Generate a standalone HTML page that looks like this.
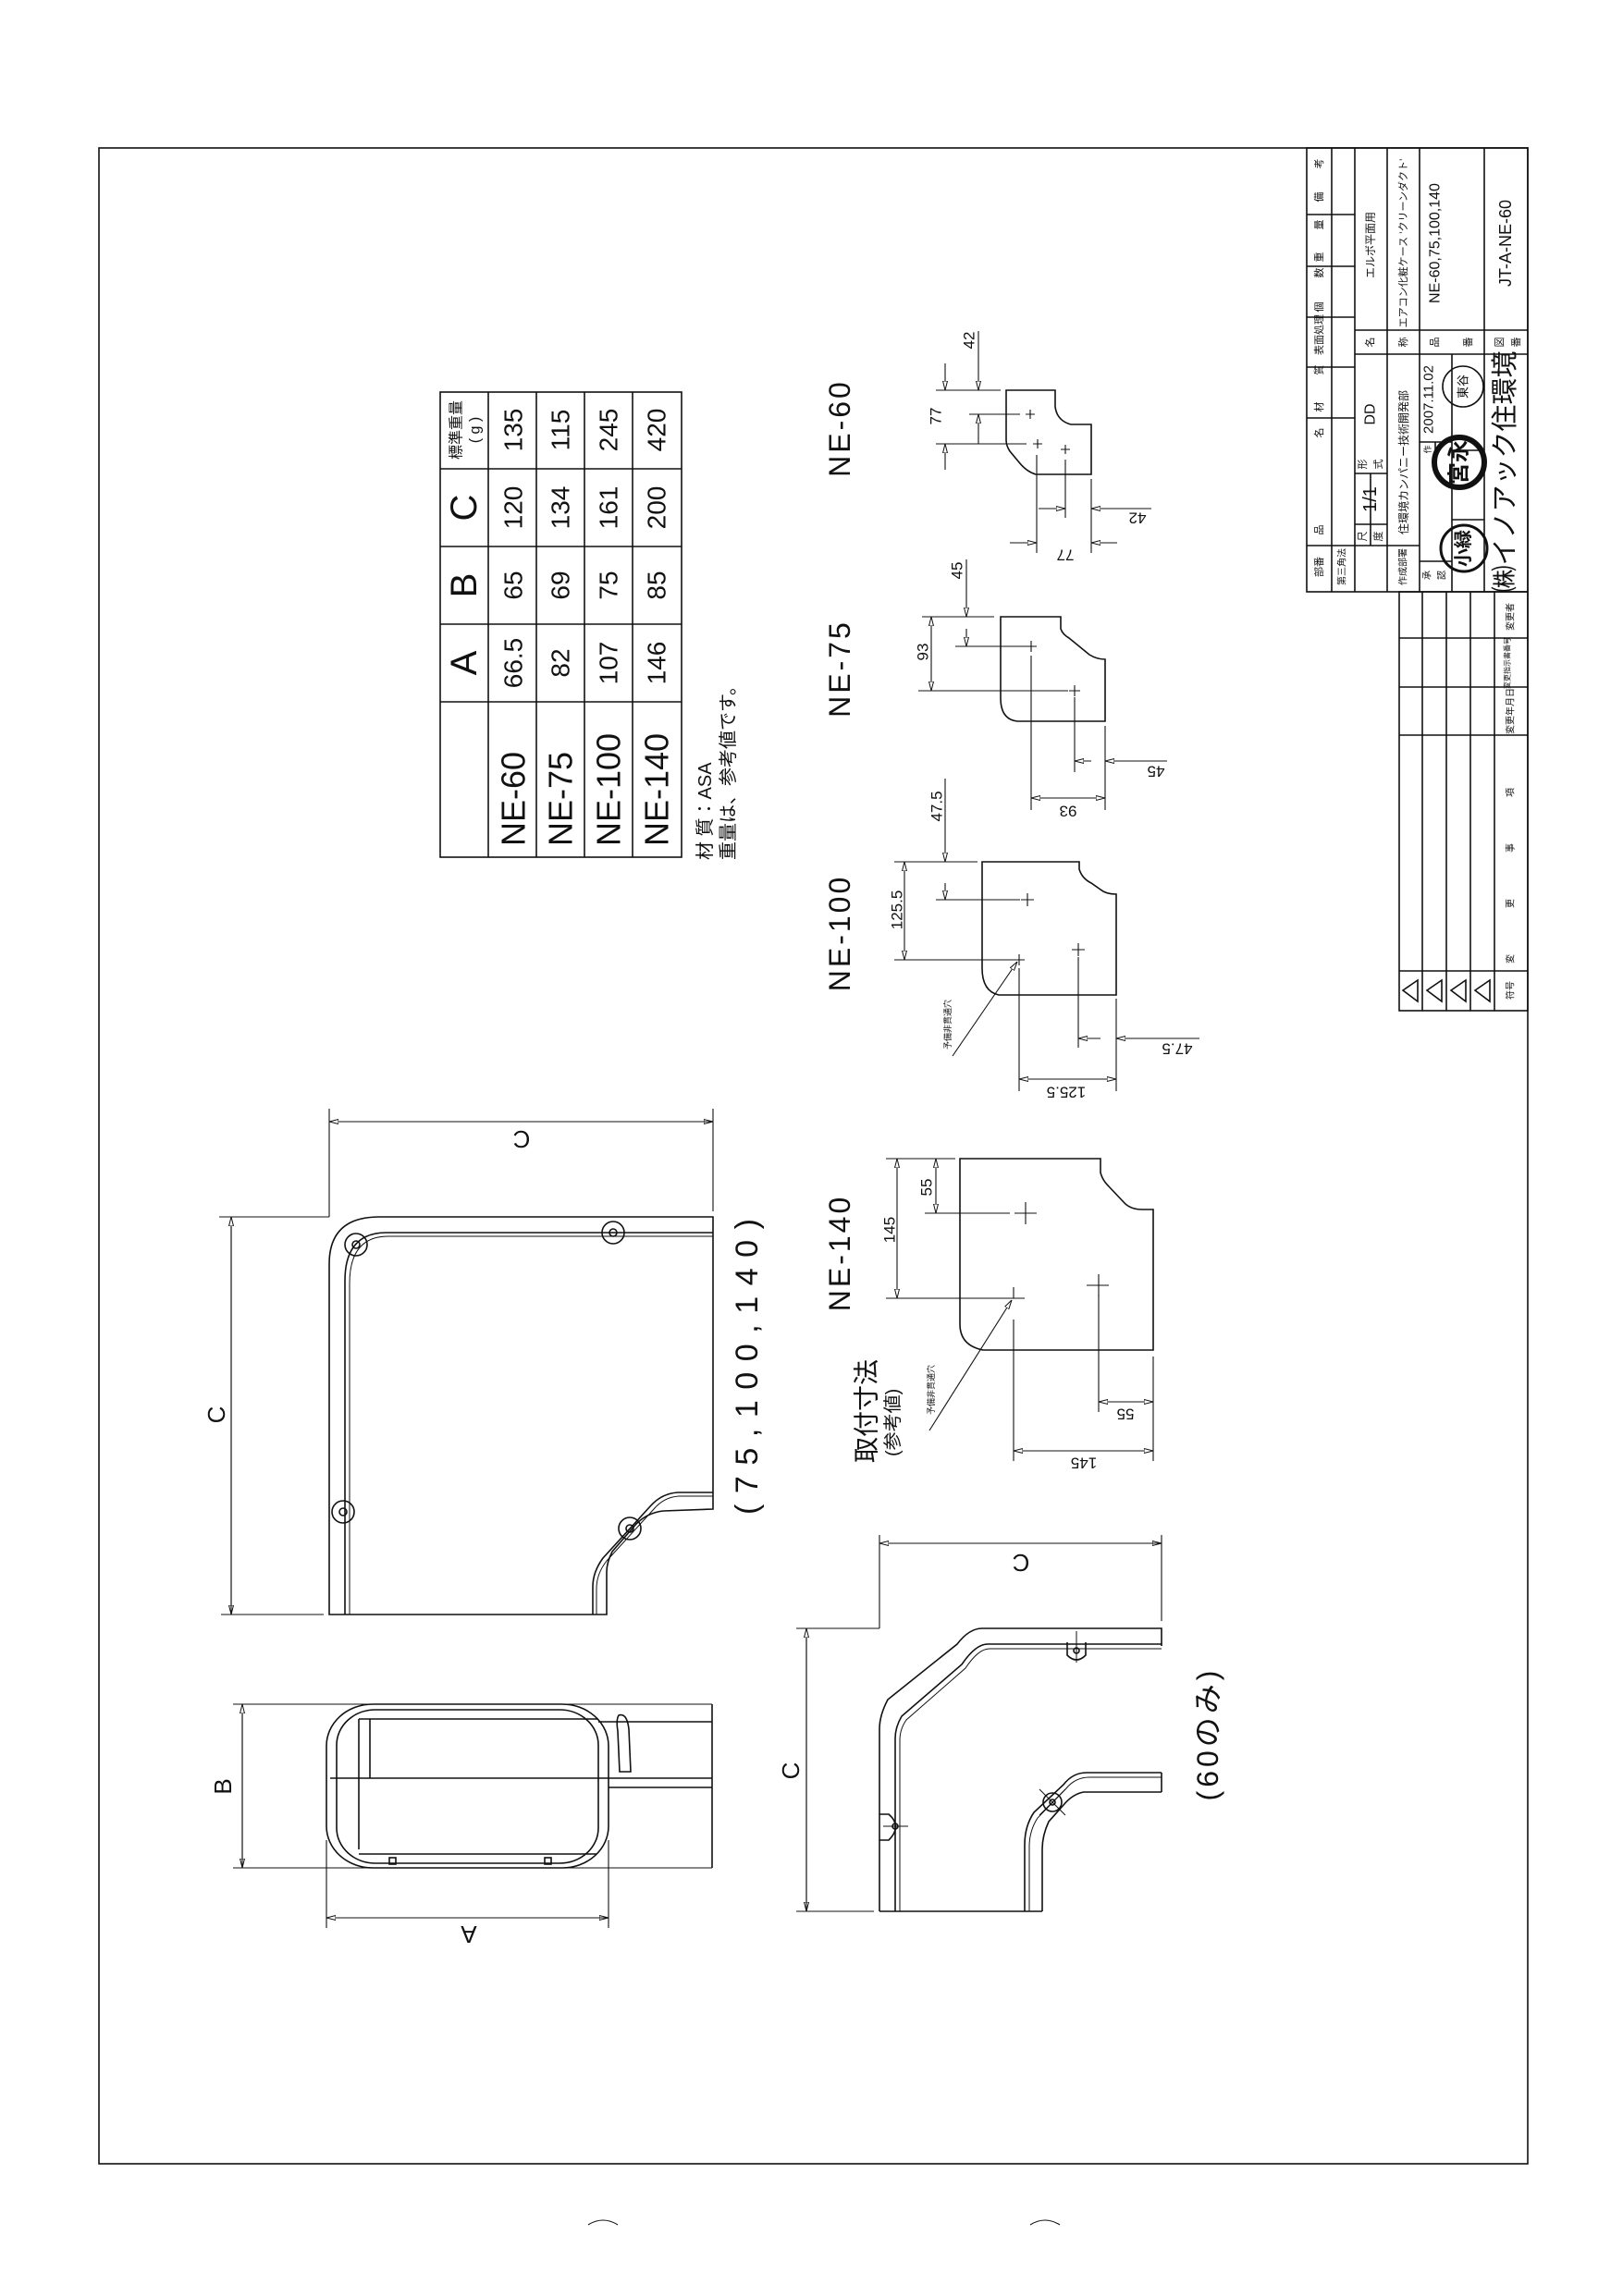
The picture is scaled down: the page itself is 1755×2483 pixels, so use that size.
<!DOCTYPE html>
<html><head><meta charset="utf-8">
<style>
html,body{margin:0;padding:0;background:#fff;}
svg{display:block;}
text{font-family:"Liberation Sans","Noto Sans CJK JP",sans-serif;fill:#111;}
.l{stroke:#111;stroke-width:1.6;fill:none;}
.t{stroke:#111;stroke-width:1.1;fill:none;}
.h{stroke:#111;stroke-width:2.4;fill:none;}
</style></head>
<body>
<svg width="1755" height="2483" viewBox="0 0 1755 2483" xmlns="http://www.w3.org/2000/svg">
<defs>
<marker id="a" viewBox="0 0 10 6" refX="10" refY="3" markerWidth="10" markerHeight="6" markerUnits="userSpaceOnUse" orient="auto">
<path d="M0,0.5 L10,3 L0,5.5 Z" fill="#fff" stroke="#111" stroke-width="1"/>
</marker>
</defs>
<rect width="1755" height="2483" fill="#fff"/>

<!-- frame -->
<rect x="107" y="160" width="1545" height="2180" class="l" stroke-width="2"/>

<!-- ===== Title block ===== -->
<g class="l">
<rect x="1413" y="160" width="239" height="480"/>
<line x1="1440" y1="160" x2="1440" y2="640"/>
<line x1="1465" y1="160" x2="1465" y2="640"/>
<line x1="1500" y1="160" x2="1500" y2="640"/>
<line x1="1535" y1="160" x2="1535" y2="640"/>
<line x1="1570" y1="383" x2="1570" y2="640"/>
<line x1="1605" y1="160" x2="1605" y2="640"/>
<line x1="1413" y1="232" x2="1465" y2="232"/>
<line x1="1413" y1="288" x2="1465" y2="288"/>
<line x1="1413" y1="343" x2="1465" y2="343"/>
<line x1="1413" y1="397" x2="1465" y2="397"/>
<line x1="1413" y1="452" x2="1465" y2="452"/>
<line x1="1413" y1="590" x2="1535" y2="590"/>
<line x1="1465" y1="357" x2="1652" y2="357"/>
<line x1="1465" y1="383" x2="1652" y2="383"/>
<line x1="1465" y1="512" x2="1500" y2="512"/>
<line x1="1465" y1="567" x2="1500" y2="567"/>
<line x1="1482" y1="512" x2="1482" y2="590"/>
<line x1="1535" y1="478" x2="1570" y2="478"/>
<line x1="1535" y1="607" x2="1570" y2="607"/>
<line x1="1552" y1="478" x2="1552" y2="492"/>
<line x1="1570" y1="487" x2="1605" y2="487"/>
<line x1="1570" y1="562" x2="1605" y2="562"/>
</g>
<g font-size="11" text-anchor="middle">
<text transform="translate(1427,177) rotate(-90)" dominant-baseline="central">考</text>
<text transform="translate(1427,213) rotate(-90)" dominant-baseline="central">備</text>
<text transform="translate(1427,243) rotate(-90)" dominant-baseline="central">量</text>
<text transform="translate(1427,278) rotate(-90)" dominant-baseline="central">重</text>
<text transform="translate(1427,295) rotate(-90)" dominant-baseline="central">数</text>
<text transform="translate(1427,332) rotate(-90)" dominant-baseline="central">個</text>
<text transform="translate(1427,362) rotate(-90)" dominant-baseline="central">表面処理</text>
<text transform="translate(1427,400) rotate(-90)" dominant-baseline="central">質</text>
<text transform="translate(1427,440) rotate(-90)" dominant-baseline="central">材</text>
<text transform="translate(1427,468) rotate(-90)" dominant-baseline="central">名</text>
<text transform="translate(1427,573) rotate(-90)" dominant-baseline="central">品</text>
<text transform="translate(1427,613) rotate(-90)" dominant-baseline="central">部番</text>
<text transform="translate(1452,613) rotate(-90)" dominant-baseline="central" font-size="10">第三角法</text>
<text transform="translate(1474,580) rotate(-90)" dominant-baseline="central">尺</text>
<text transform="translate(1491,580) rotate(-90)" dominant-baseline="central">度</text>
<text transform="translate(1482,540) rotate(-90)" dominant-baseline="central" font-size="20">1/1</text>
<text transform="translate(1474,502) rotate(-90)" dominant-baseline="central">形</text>
<text transform="translate(1491,502) rotate(-90)" dominant-baseline="central">式</text>
<text transform="translate(1482,448) rotate(-90)" dominant-baseline="central" font-size="16">DD</text>
<text transform="translate(1482,370) rotate(-90)" dominant-baseline="central">名</text>
<text transform="translate(1518,370) rotate(-90)" dominant-baseline="central">称</text>
<text transform="translate(1482,265) rotate(-90)" dominant-baseline="central" font-size="12">エルボ平面用</text>
<text transform="translate(1518,263) rotate(-90)" dominant-baseline="central" font-size="11">エアコン化粧ケース ’クリーンダクト’</text>
<text transform="translate(1518,500) rotate(-90)" dominant-baseline="central" font-size="12">住環境カンパニー技術開発部</text>
<text transform="translate(1518,613) rotate(-90)" dominant-baseline="central" font-size="10">作成部署</text>
<text transform="translate(1552,263) rotate(-90)" dominant-baseline="central" font-size="16">NE-60,75,100,140</text>
<text transform="translate(1552,370) rotate(-90)" dominant-baseline="central">品</text>
<text transform="translate(1545,432) rotate(-90)" dominant-baseline="central" font-size="15">2007.11.02</text>
<text transform="translate(1544,486) rotate(-90)" dominant-baseline="central" font-size="9">作</text>
<text transform="translate(1544,622) rotate(-90)" dominant-baseline="central" font-size="10">承</text>
<text transform="translate(1560,622) rotate(-90)" dominant-baseline="central" font-size="10">認</text>
<text transform="translate(1588,370) rotate(-90)" dominant-baseline="central">番</text>
<text transform="translate(1628,263) rotate(-90)" dominant-baseline="central" font-size="18">JT-A-NE-60</text>
<text transform="translate(1622,370) rotate(-90)" dominant-baseline="central">図</text>
<text transform="translate(1640,370) rotate(-90)" dominant-baseline="central">番</text>
<text transform="translate(1628,510) rotate(-90)" dominant-baseline="central" font-size="29">㈱イノアック住環境</text>
</g>
<!-- stamps -->
<circle cx="1582" cy="418" r="22" class="l" stroke-width="2"/>
<text transform="translate(1582,418) rotate(-90)" text-anchor="middle" dominant-baseline="central" font-size="13">東谷</text>
<circle cx="1578" cy="500" r="27" stroke="#111" stroke-width="6" fill="none"/>
<text transform="translate(1578,500) rotate(-90)" text-anchor="middle" dominant-baseline="central" font-size="24" font-weight="bold">宮永</text>
<circle cx="1583" cy="593" r="25" stroke="#111" stroke-width="3" fill="none"/>
<text transform="translate(1583,593) rotate(-90)" text-anchor="middle" dominant-baseline="central" font-size="20" font-weight="bold">小緑</text>

<!-- revision block -->
<g class="l">
<rect x="1513" y="640" width="139" height="453"/>
<line x1="1538" y1="640" x2="1538" y2="1093"/>
<line x1="1564" y1="640" x2="1564" y2="1093"/>
<line x1="1590" y1="640" x2="1590" y2="1093"/>
<line x1="1616" y1="640" x2="1616" y2="1093"/>
<line x1="1513" y1="690" x2="1652" y2="690"/>
<line x1="1513" y1="743" x2="1652" y2="743"/>
<line x1="1513" y1="795" x2="1652" y2="795"/>
<line x1="1513" y1="1050" x2="1652" y2="1050"/>
</g>
<g class="l">
<path d="M1517,1071 L1533,1060 L1533,1083 Z"/>
<path d="M1543,1071 L1559,1060 L1559,1083 Z"/>
<path d="M1569,1071 L1585,1060 L1585,1083 Z"/>
<path d="M1595,1071 L1611,1060 L1611,1083 Z"/>
</g>
<g font-size="10" text-anchor="middle">
<text transform="translate(1634,667) rotate(-90)" dominant-baseline="central">変更者</text>
<text transform="translate(1630,717) rotate(-90)" dominant-baseline="central" font-size="8">変更指示書番号</text>
<text transform="translate(1634,769) rotate(-90)" dominant-baseline="central">変更年月日</text>
<text transform="translate(1634,922) rotate(-90)" dominant-baseline="central" letter-spacing="50">変更事項</text>
<text transform="translate(1634,1071) rotate(-90)" dominant-baseline="central">符号</text>
</g>

<!-- ===== Table ===== -->
<g class="l">
<rect x="476" y="424" width="261" height="503"/>
<line x1="528" y1="424" x2="528" y2="927"/>
<line x1="580" y1="424" x2="580" y2="927"/>
<line x1="632" y1="424" x2="632" y2="927"/>
<line x1="684" y1="424" x2="684" y2="927"/>
<line x1="476" y1="507" x2="737" y2="507"/>
<line x1="476" y1="591" x2="737" y2="591"/>
<line x1="476" y1="675" x2="737" y2="675"/>
<line x1="476" y1="759" x2="737" y2="759"/>
</g>
<g text-anchor="middle" font-size="28">
<text transform="translate(494,465) rotate(-90)" dominant-baseline="central" font-size="16">標準重量</text>
<text transform="translate(514,465) rotate(-90)" dominant-baseline="central" font-size="16">( g )</text>
<text transform="translate(502,549) rotate(-90)" dominant-baseline="central" font-size="40">C</text>
<text transform="translate(502,633) rotate(-90)" dominant-baseline="central" font-size="40">B</text>
<text transform="translate(502,717) rotate(-90)" dominant-baseline="central" font-size="40">A</text>
<text transform="translate(555,465) rotate(-90)" dominant-baseline="central">135</text>
<text transform="translate(555,549) rotate(-90)" dominant-baseline="central">120</text>
<text transform="translate(555,633) rotate(-90)" dominant-baseline="central">65</text>
<text transform="translate(555,717) rotate(-90)" dominant-baseline="central">66.5</text>
<text transform="translate(606,465) rotate(-90)" dominant-baseline="central">115</text>
<text transform="translate(606,549) rotate(-90)" dominant-baseline="central">134</text>
<text transform="translate(606,633) rotate(-90)" dominant-baseline="central">69</text>
<text transform="translate(606,717) rotate(-90)" dominant-baseline="central">82</text>
<text transform="translate(658,465) rotate(-90)" dominant-baseline="central">245</text>
<text transform="translate(658,549) rotate(-90)" dominant-baseline="central">161</text>
<text transform="translate(658,633) rotate(-90)" dominant-baseline="central">75</text>
<text transform="translate(658,717) rotate(-90)" dominant-baseline="central">107</text>
<text transform="translate(710,465) rotate(-90)" dominant-baseline="central">420</text>
<text transform="translate(710,549) rotate(-90)" dominant-baseline="central">200</text>
<text transform="translate(710,633) rotate(-90)" dominant-baseline="central">85</text>
<text transform="translate(710,717) rotate(-90)" dominant-baseline="central">146</text>
</g>
<g text-anchor="start" font-size="36">
<text transform="translate(555,915) rotate(-90)" dominant-baseline="central">NE-60</text>
<text transform="translate(606,915) rotate(-90)" dominant-baseline="central">NE-75</text>
<text transform="translate(658,915) rotate(-90)" dominant-baseline="central">NE-100</text>
<text transform="translate(710,915) rotate(-90)" dominant-baseline="central">NE-140</text>
</g>
<text transform="translate(763,930) rotate(-90)" dominant-baseline="central" font-size="20">材 質：ASA</text>
<text transform="translate(788,930) rotate(-90)" dominant-baseline="central" font-size="20">重量は、参考値です。</text>

<!-- ===== Large elbow (75,100,140) ===== -->
<g class="t">
<line x1="356" y1="1199" x2="356" y2="1316"/>
<line x1="771" y1="1199" x2="771" y2="1310"/>
<line x1="356" y1="1213" x2="771" y2="1213" marker-end="url(#a)"/>
<line x1="771" y1="1213" x2="356" y2="1213" marker-end="url(#a)"/>
<line x1="237" y1="1316" x2="356" y2="1316"/>
<line x1="239" y1="1746" x2="350" y2="1746"/>
<line x1="250" y1="1316" x2="250" y2="1746" marker-end="url(#a)"/>
<line x1="250" y1="1746" x2="250" y2="1316" marker-end="url(#a)"/>
</g>
<text transform="translate(564,1232) rotate(180)" text-anchor="middle" dominant-baseline="central" font-size="26">C</text>
<text transform="translate(234,1530) rotate(-90)" text-anchor="middle" dominant-baseline="central" font-size="26">C</text>
<g class="l">
<path d="M356,1746 L356,1367 Q356,1316 410,1316 L771,1316 L771,1632 L717,1634 Q700,1636 688,1648 L662,1678 Q656,1690 656,1700 L656,1746 Z"/>
<path d="M373,1746 L373,1385 Q373,1333 418,1333 L771,1333"/>
<path d="M378,1746 L378,1388 Q378,1337 420,1337 L771,1337" stroke-width="1"/>
<path d="M771,1614 L733,1614 Q716,1615 704,1628 L652,1685 Q641,1700 641,1716 L641,1746"/>
<path d="M771,1618 L734,1618 Q718,1619 707,1632 L656,1688 Q645,1702 645,1718 L645,1746" stroke-width="1"/>
</g>
<g class="l" stroke-width="1.3">
<circle cx="385" cy="1346" r="12"/><circle cx="385" cy="1346" r="4"/>
<circle cx="663" cy="1333" r="12"/><circle cx="663" cy="1333" r="4"/>
<circle cx="371" cy="1635" r="12"/><circle cx="371" cy="1635" r="4"/>
<circle cx="681" cy="1653" r="12"/><circle cx="681" cy="1653" r="4"/>
</g>
<text transform="translate(808,1478) rotate(-90)" text-anchor="middle" dominant-baseline="central" font-size="34" textLength="320" lengthAdjust="spacing">(75,100,140)</text>

<!-- ===== Cross section ===== -->
<g class="t">
<line x1="252" y1="1843" x2="770" y2="1843"/>
<line x1="252" y1="2020" x2="770" y2="2020"/>
<line x1="262" y1="1843" x2="262" y2="2020" marker-end="url(#a)"/>
<line x1="262" y1="2020" x2="262" y2="1843" marker-end="url(#a)"/>
<line x1="353" y1="1990" x2="353" y2="2085"/>
<line x1="658" y1="1990" x2="658" y2="2085"/>
<line x1="353" y1="2074" x2="658" y2="2074" marker-end="url(#a)"/>
<line x1="658" y1="2074" x2="353" y2="2074" marker-end="url(#a)"/>
</g>
<text transform="translate(241,1932) rotate(-90)" text-anchor="middle" dominant-baseline="central" font-size="26">B</text>
<text transform="translate(507,2092) rotate(180)" text-anchor="middle" dominant-baseline="central" font-size="26">A</text>
<g class="l">
<line x1="770" y1="1843" x2="770" y2="2020"/>
<rect x="353" y="1843" width="305" height="177" rx="50" ry="45"/>
<rect x="364" y="1849" width="283" height="166" rx="42" ry="38"/>
<line x1="388" y1="1859" x2="647" y2="1859"/>
<line x1="647" y1="1862" x2="770" y2="1862"/>
<line x1="357" y1="1923" x2="770" y2="1923"/>
<line x1="658" y1="1933" x2="770" y2="1933"/>
<line x1="388" y1="2005" x2="645" y2="2005"/>
<line x1="388" y1="1859" x2="388" y2="2000"/>
<line x1="400" y1="1859" x2="400" y2="1923"/>
<path d="M669,1855 Q678,1852 680,1870 L682,1916 L670,1916 L668,1872 Q666,1860 669,1855 Z"/>
<rect x="421" y="2009" width="7" height="7"/>
<rect x="589" y="2009" width="7" height="7"/>
</g>

<!-- ===== 60-only elbow ===== -->
<g class="t">
<line x1="951" y1="1660" x2="951" y2="1761"/>
<line x1="1256" y1="1660" x2="1256" y2="1753"/>
<line x1="951" y1="1669" x2="1256" y2="1669" marker-end="url(#a)"/>
<line x1="1256" y1="1669" x2="951" y2="1669" marker-end="url(#a)"/>
<line x1="861" y1="1761" x2="951" y2="1761"/>
<line x1="861" y1="2067" x2="945" y2="2067"/>
<line x1="872" y1="1761" x2="872" y2="2067" marker-end="url(#a)"/>
<line x1="872" y1="2067" x2="872" y2="1761" marker-end="url(#a)"/>
</g>
<text transform="translate(1104,1690) rotate(180)" text-anchor="middle" dominant-baseline="central" font-size="26">C</text>
<text transform="translate(855,1915) rotate(-90)" text-anchor="middle" dominant-baseline="central" font-size="26">C</text>
<g class="l">
<path d="M951,2067 L951,1870 Q951,1855 960,1838 L1035,1778 Q1048,1761 1062,1761 L1256,1761 L1256,1780"/>
<path d="M968,2067 L968,1880 Q968,1868 975,1856 L1040,1800 Q1055,1778 1068,1778 L1256,1778"/>
<path d="M973,2067 L973,1882 Q973,1870 980,1860 L1044,1804 Q1058,1783 1070,1783 L1256,1783" stroke-width="1"/>
<path d="M1256,1917 L1175,1917 Q1160,1917 1150,1930 L1118,1960 Q1108,1975 1108,1995 L1108,2067"/>
<path d="M1256,1938 L1172,1938 Q1160,1940 1150,1952 L1134,1970 Q1127,1985 1127,2000 L1127,2067"/>
<path d="M1113,2067 L1113,1997 Q1113,1980 1122,1966 L1153,1934 Q1163,1922 1178,1922 L1256,1922" stroke-width="1"/>
<line x1="1256" y1="1917" x2="1256" y2="1938"/>
<line x1="951" y1="2067" x2="1127" y2="2067"/>
</g>
<g class="l" stroke-width="1.3">
<path d="M1154,1776 L1154,1790 Q1164,1800 1174,1790 L1174,1776"/><circle cx="1164" cy="1785" r="3"/>
<line x1="1164" y1="1764" x2="1164" y2="1798" stroke-width="1"/>
<path d="M951,1962 L961,1962 Q976,1975 961,1990 L951,1990"/><circle cx="968" cy="1975" r="3"/>
<line x1="955" y1="1975" x2="982" y2="1975" stroke-width="1"/>
<circle cx="1138" cy="1949" r="10"/><circle cx="1138" cy="1949" r="3"/>
<line x1="1124" y1="1935" x2="1152" y2="1963" stroke-width="1"/>
<line x1="1124" y1="1963" x2="1152" y2="1935" stroke-width="1"/>
</g>
<text transform="translate(1306,1875) rotate(-90)" text-anchor="middle" dominant-baseline="central" font-size="32" letter-spacing="4">(60のみ)</text>

<!-- ===== Hole patterns ===== -->
<g font-size="32" text-anchor="middle">
<text transform="translate(908,463) rotate(-90)" dominant-baseline="central" letter-spacing="3">NE-60</text>
<text transform="translate(908,723) rotate(-90)" dominant-baseline="central" letter-spacing="3">NE-75</text>
<text transform="translate(908,1009) rotate(-90)" dominant-baseline="central" letter-spacing="3">NE-100</text>
<text transform="translate(908,1355) rotate(-90)" dominant-baseline="central" letter-spacing="3">NE-140</text>
</g>
<text transform="translate(937,1582) rotate(-90)" dominant-baseline="central" font-size="28">取付寸法</text>
<text transform="translate(966,1575) rotate(-90)" dominant-baseline="central" font-size="20">(参考値)</text>

<!-- NE-60 -->
<g class="l">
<path d="M1088,422 L1141,422 L1141,440 Q1143,455 1158,459 L1180,459 L1180,513 L1120,513 Q1110,510 1102,500 L1092,488 Q1088,482 1088,476 Z"/>
</g>
<g class="t">
<line x1="1012" y1="422" x2="1082" y2="422"/>
<line x1="1048" y1="448" x2="1103" y2="448"/>
<line x1="1012" y1="480" x2="1110" y2="480"/>
<line x1="1022" y1="393" x2="1022" y2="422" marker-end="url(#a)"/>
<line x1="1022" y1="508" x2="1022" y2="480" marker-end="url(#a)"/>
<line x1="1058" y1="358" x2="1058" y2="422" marker-end="url(#a)"/>
<line x1="1058" y1="480" x2="1058" y2="448" marker-end="url(#a)"/>
<line x1="1121" y1="492" x2="1121" y2="598"/>
<line x1="1152" y1="497" x2="1152" y2="560"/>
<line x1="1180" y1="518" x2="1180" y2="598"/>
<line x1="1123" y1="550" x2="1152" y2="550" marker-end="url(#a)"/>
<line x1="1245" y1="550" x2="1180" y2="550" marker-end="url(#a)"/>
<line x1="1092" y1="587" x2="1121" y2="587" marker-end="url(#a)"/>
<line x1="1208" y1="587" x2="1180" y2="587" marker-end="url(#a)"/>
<path d="M1109,448 h10 M1114,443 v10 M1117,480 h10 M1122,475 v10 M1147,486 h10 M1152,481 v10"/>
</g>
<g font-size="17" text-anchor="middle">
<text transform="translate(1048,368) rotate(-90)" dominant-baseline="central">42</text>
<text transform="translate(1012,450) rotate(-90)" dominant-baseline="central">77</text>
<text transform="translate(1230,560) rotate(180)" dominant-baseline="central">42</text>
<text transform="translate(1152,600) rotate(180)" dominant-baseline="central">77</text>
</g>

<!-- NE-75 -->
<g class="l">
<path d="M1082,667 L1147,667 L1147,680 Q1149,686 1156,690 L1178,708 Q1186,713 1195,713 L1195,780 L1100,780 Q1082,778 1082,755 Z"/>
</g>
<g class="t">
<line x1="997" y1="667" x2="1075" y2="667"/>
<line x1="1033" y1="699" x2="1110" y2="699"/>
<line x1="993" y1="747" x2="1155" y2="747"/>
<line x1="1007" y1="707" x2="1007" y2="667" marker-end="url(#a)"/>
<line x1="1007" y1="707" x2="1007" y2="747" marker-end="url(#a)"/>
<line x1="1045" y1="605" x2="1045" y2="667" marker-end="url(#a)"/>
<line x1="1045" y1="680" x2="1045" y2="699" marker-end="url(#a)"/>
<line x1="1115" y1="709" x2="1115" y2="876"/>
<line x1="1162" y1="754" x2="1162" y2="835"/>
<line x1="1195" y1="785" x2="1195" y2="876"/>
<line x1="1180" y1="823" x2="1162" y2="823" marker-end="url(#a)"/>
<line x1="1262" y1="823" x2="1195" y2="823" marker-end="url(#a)"/>
<line x1="1155" y1="863" x2="1115" y2="863" marker-end="url(#a)"/>
<line x1="1155" y1="863" x2="1195" y2="863" marker-end="url(#a)"/>
<path d="M1109,699 h12 M1115,693 v12 M1156,747 h12 M1162,741 v12"/>
</g>
<g font-size="17" text-anchor="middle">
<text transform="translate(998,705) rotate(-90)" dominant-baseline="central">93</text>
<text transform="translate(1035,617) rotate(-90)" dominant-baseline="central">45</text>
<text transform="translate(1250,834) rotate(180)" dominant-baseline="central">45</text>
<text transform="translate(1155,877) rotate(180)" dominant-baseline="central">93</text>
</g>

<!-- NE-100 -->
<g class="l">
<path d="M1062,932 L1167,932 L1167,940 Q1170,950 1180,955 L1190,962 Q1196,967 1207,967 L1207,1076 L1080,1076 Q1062,1072 1062,1047 Z"/>
</g>
<g class="t">
<line x1="967" y1="932" x2="1057" y2="932"/>
<line x1="1012" y1="973" x2="1103" y2="973"/>
<line x1="967" y1="1038" x2="1098" y2="1038"/>
<line x1="978" y1="985" x2="978" y2="932" marker-end="url(#a)"/>
<line x1="978" y1="985" x2="978" y2="1038" marker-end="url(#a)"/>
<line x1="1022" y1="842" x2="1022" y2="932" marker-end="url(#a)"/>
<line x1="1022" y1="955" x2="1022" y2="973" marker-end="url(#a)"/>
<line x1="1102" y1="1047" x2="1102" y2="1180"/>
<line x1="1166" y1="1035" x2="1166" y2="1133"/>
<line x1="1207" y1="1080" x2="1207" y2="1180"/>
<line x1="1190" y1="1123" x2="1166" y2="1123" marker-end="url(#a)"/>
<line x1="1297" y1="1123" x2="1207" y2="1123" marker-end="url(#a)"/>
<line x1="1150" y1="1167" x2="1102" y2="1167" marker-end="url(#a)"/>
<line x1="1150" y1="1167" x2="1207" y2="1167" marker-end="url(#a)"/>
<line x1="1030" y1="1142" x2="1100" y2="1040" marker-end="url(#a)"/>
<path d="M1104,973 h14 M1111,966 v14 M1159,1027 h14 M1166,1020 v14 M1096,1038 h12 M1102,1032 v12"/>
</g>
<g font-size="17" text-anchor="middle">
<text transform="translate(970,984) rotate(-90)" dominant-baseline="central">125.5</text>
<text transform="translate(1013,872) rotate(-90)" dominant-baseline="central">47.5</text>
<text transform="translate(1273,1134) rotate(180)" dominant-baseline="central">47.5</text>
<text transform="translate(1153,1181) rotate(180)" dominant-baseline="central">125.5</text>
</g>
<text transform="translate(1025,1135) rotate(-90)" dominant-baseline="central" font-size="9">予備非貫通穴</text>

<!-- NE-140 -->
<g class="l">
<path d="M1038,1253 L1190,1253 L1190,1268 Q1192,1276 1198,1282 L1215,1300 Q1222,1308 1235,1308 L1247,1308 L1247,1460 L1063,1460 Q1038,1455 1038,1432 Z"/>
</g>
<g class="t">
<line x1="958" y1="1253" x2="1033" y2="1253"/>
<line x1="1000" y1="1312" x2="1092" y2="1312"/>
<line x1="958" y1="1404" x2="1106" y2="1404"/>
<line x1="970" y1="1330" x2="970" y2="1253" marker-end="url(#a)"/>
<line x1="970" y1="1330" x2="970" y2="1404" marker-end="url(#a)"/>
<line x1="1012" y1="1285" x2="1012" y2="1253" marker-end="url(#a)"/>
<line x1="1012" y1="1285" x2="1012" y2="1312" marker-end="url(#a)"/>
<line x1="1096" y1="1427" x2="1096" y2="1580"/>
<line x1="1188" y1="1400" x2="1188" y2="1527"/>
<line x1="1247" y1="1467" x2="1247" y2="1580"/>
<line x1="1217" y1="1516" x2="1188" y2="1516" marker-end="url(#a)"/>
<line x1="1217" y1="1516" x2="1247" y2="1516" marker-end="url(#a)"/>
<line x1="1170" y1="1569" x2="1096" y2="1569" marker-end="url(#a)"/>
<line x1="1170" y1="1569" x2="1247" y2="1569" marker-end="url(#a)"/>
<line x1="1005" y1="1547" x2="1094" y2="1406" marker-end="url(#a)"/>
<path d="M1097,1312 h24 M1109,1300 v24 M1175,1390 h24 M1188,1378 v24 M1084,1404 h24 M1096,1392 v12"/>
</g>
<g font-size="17" text-anchor="middle">
<text transform="translate(962,1330) rotate(-90)" dominant-baseline="central">145</text>
<text transform="translate(1002,1284) rotate(-90)" dominant-baseline="central">55</text>
<text transform="translate(1217,1529) rotate(180)" dominant-baseline="central">55</text>
<text transform="translate(1172,1582) rotate(180)" dominant-baseline="central">145</text>
</g>
<text transform="translate(1007,1530) rotate(-90)" dominant-baseline="central" font-size="9">予備非貫通穴</text>

<!-- bottom marks -->
<path d="M636,2406 Q652,2396 668,2406" class="t"/>
<path d="M1114,2406 Q1130,2396 1146,2406" class="t"/>
</svg>
</body></html>
